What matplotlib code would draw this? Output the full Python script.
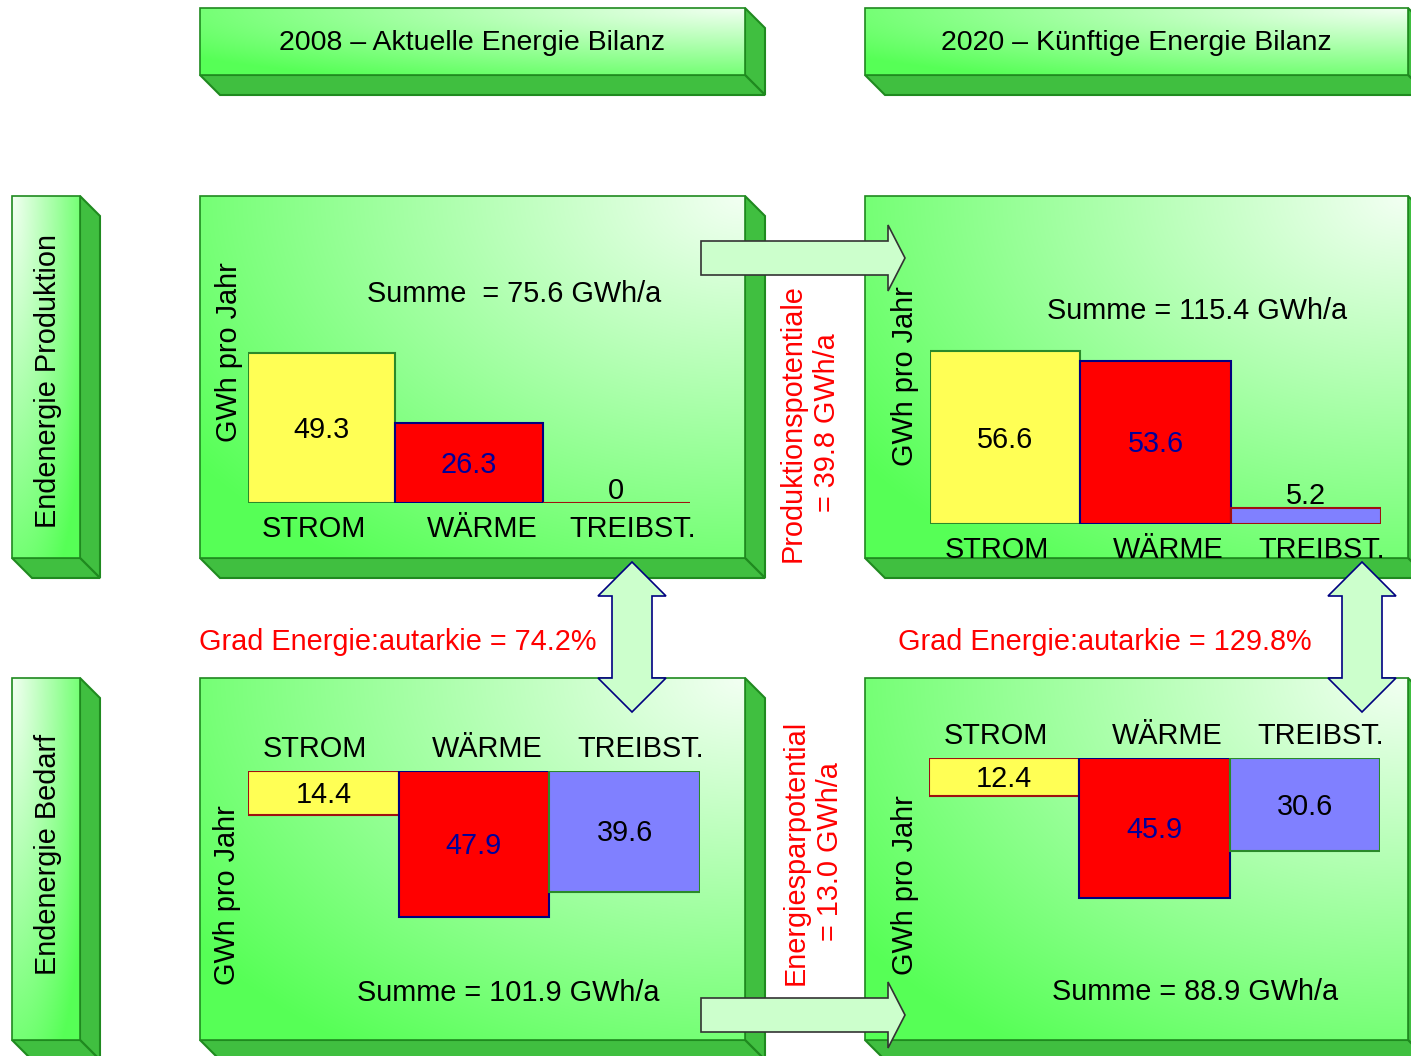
import numpy as np
import matplotlib.pyplot as plt
from matplotlib.patches import Polygon, Rectangle

plt.rcParams['font.family'] = ['Liberation Sans', 'DejaVu Sans']

# data (GWh pro Jahr)
categories = ['STROM', 'WÄRME', 'TREIBST.']
prod_2008 = [49.3, 26.3, 0.0]
prod_2020 = [56.6, 53.6, 5.2]
bedarf_2008 = [14.4, 47.9, 39.6]
bedarf_2020 = [12.4, 45.9, 30.6]

bar_colors = ['#ffff55', '#ff0000', '#8080ff']
edges_prod = ['#2a8a2a', '#000080', '#a01010']
edges_bedarf = ['#a01010', '#000080', '#2a8a2a']
value_colors = ['black', '#000099', 'black']

W, H = 1411, 1056
PX = 3.05  # pixel per GWh
FACE = '#40bf40'
EDGE = '#1f8a1f'
FS = 20.8
DY = 2  # small downward nudge for text

fig = plt.figure(figsize=(W / 100, H / 100), dpi=100)
ax = fig.add_axes([0, 0, 1, 1])
ax.set_xlim(0, W)
ax.set_ylim(H, 0)
ax.axis('off')

green = np.array([0.34, 1.0, 0.34])
white = np.array([0.95, 1.0, 0.95])


def box3d(x0, y0, x1, y1, d=20, corner='tr'):
    # extruded faces
    ax.add_patch(Polygon([(x1, y0), (x1 + d, y0 + d), (x1 + d, y1 + d), (x1, y1)],
                         closed=True, fc=FACE, ec=EDGE, lw=1.5, zorder=1))
    ax.add_patch(Polygon([(x0, y1), (x1, y1), (x1 + d, y1 + d), (x0 + d, y1 + d)],
                         closed=True, fc=FACE, ec=EDGE, lw=1.5, zorder=1))
    # front face with gradient from one corner
    ny, nx = 100, 100
    u = np.linspace(0, 1, nx)[None, :]
    v = np.linspace(0, 1, ny)[:, None]
    if corner == 'tr':
        dx, dy = 1 - u, v
    else:
        dx, dy = u, v
    t = np.clip(np.sqrt(dx ** 2 + dy ** 2) / 1.25, 0, 1)
    img = white[None, None, :] * (1 - t[..., None]) + green[None, None, :] * t[..., None]
    rect = Rectangle((x0, y0), x1 - x0, y1 - y0, fc='none', ec=EDGE, lw=1.2, zorder=3)
    ax.add_patch(rect)
    im = ax.imshow(img, extent=(x0, x1, y1, y0), origin='upper', aspect='auto',
                   zorder=2, interpolation='bilinear')
    im.set_clip_path(rect)


# headers
box3d(200, 8, 745, 75)
box3d(865, 8, 1408, 75)
ax.text(472, 41 + DY, '2008 – Aktuelle Energie Bilanz', fontsize=20.5, ha='center', va='center', zorder=5)
ax.text(1136, 41 + DY, '2020 – Künftige Energie Bilanz', fontsize=20.5, ha='center', va='center', zorder=5)

# row labels
box3d(12, 196, 80, 558, corner='tl')
box3d(12, 678, 80, 1040, corner='tl')
ax.text(48, 381, 'Endenergie Produktion', fontsize=FS, rotation=90, ha='center', va='center', zorder=5)
ax.text(48, 854, 'Endenergie Bedarf', fontsize=FS, rotation=90, ha='center', va='center', zorder=5)

# panels
box3d(200, 196, 745, 558)
box3d(865, 196, 1408, 558)
box3d(200, 678, 745, 1040)
box3d(865, 678, 1408, 1040)

ylab = dict(fontsize=FS, rotation=90, ha='center', va='center', zorder=5)
ax.text(229, 352, 'GWh pro Jahr', **ylab)
ax.text(905, 376, 'GWh pro Jahr', **ylab)
ax.text(227, 895, 'GWh pro Jahr', **ylab)
ax.text(905, 885, 'GWh pro Jahr', **ylab)

sums = [sum(prod_2008), sum(prod_2020), sum(bedarf_2008), sum(bedarf_2020)]
ax.text(514, 292 + DY, 'Summe  = %.1f GWh/a' % sums[0], fontsize=FS, ha='center', va='center', zorder=5)
ax.text(1197, 309 + DY, 'Summe = %.1f GWh/a' % sums[1], fontsize=FS, ha='center', va='center', zorder=5)
ax.text(508, 991 + DY, 'Summe = %.1f GWh/a' % sums[2], fontsize=FS, ha='center', va='center', zorder=5)
ax.text(1195, 990 + DY, 'Summe = %.1f GWh/a' % sums[3], fontsize=FS, ha='center', va='center', zorder=5)

ax.text(398, 640 + DY, 'Grad Energie:autarkie = %.1f%%' % (100 * sums[0] / sums[2]),
        fontsize=FS, color='red', ha='center', va='center', zorder=5)
ax.text(1105, 640 + DY, 'Grad Energie:autarkie = %.1f%%' % (100 * sums[1] / sums[3]),
        fontsize=FS, color='red', ha='center', va='center', zorder=5)
ax.text(810, 423, 'Produktionspotentiale\n= %.1f GWh/a' % (sums[1] - sums[0]), fontsize=FS,
        color='red', rotation=90, ha='center', va='center', multialignment='center',
        linespacing=1.3, zorder=5)
ax.text(813, 852, 'Energiesparpotential\n= %.1f GWh/a' % (sums[2] - sums[3]), fontsize=FS,
        color='red', rotation=90, ha='center', va='center', multialignment='center',
        linespacing=1.3, zorder=5)

# arrows
ARR = '#ccffcc'


def right_arrow(x0, yc):
    pts = [(x0, yc - 17), (x0 + 187, yc - 17), (x0 + 187, yc - 33), (x0 + 204, yc),
           (x0 + 187, yc + 33), (x0 + 187, yc + 17), (x0, yc + 17)]
    ax.add_patch(Polygon(pts, closed=True, fc=ARR, ec='#333333', lw=1.2, zorder=6))


def updown_arrow(xc, ytop, ybot):
    pts = [(xc, ytop), (xc + 34, ytop + 34), (xc + 20, ytop + 34), (xc + 20, ybot - 34),
           (xc + 34, ybot - 34), (xc, ybot), (xc - 34, ybot - 34), (xc - 20, ybot - 34),
           (xc - 20, ytop + 34), (xc - 34, ytop + 34)]
    ax.add_patch(Polygon(pts, closed=True, fc=ARR, ec='#000080', lw=1.2, zorder=6))


right_arrow(701, 258)
right_arrow(701, 1015)
updown_arrow(632, 562, 712)
updown_arrow(1362, 562, 712)

# bar charts
offsets = [-8, 13, 16]


def bars(x0, x1, ybase, vals, edges, down):
    top = 60
    if down:
        pos = [x0 / W, 1 - (ybase + top * PX) / H, (x1 - x0) / W, top * PX / H]
    else:
        pos = [x0 / W, 1 - ybase / H, (x1 - x0) / W, top * PX / H]
    b = fig.add_axes(pos)
    b.set_xlim(0, 3)
    b.set_ylim((top, 0) if down else (0, top))
    b.axis('off')
    b.patch.set_alpha(0)
    xs = np.arange(len(vals))
    b.bar(xs, vals, width=1, align='edge', color=bar_colors, edgecolor=edges, linewidth=1.5,
          zorder=3)
    pxw = (x1 - x0) / 3
    nudge = DY / PX * (1 if down else -1)
    for i, v in enumerate(vals):
        if v < 10:
            b.text(i + 0.5, v + 4.5 + nudge, '%g' % v, fontsize=FS, ha='center', va='center',
                   color=value_colors[i], zorder=5)
        else:
            b.text(i + 0.5, v / 2 + nudge, '%.1f' % v, fontsize=FS, ha='center', va='center',
                   color=value_colors[i], zorder=5)
        b.text(i + 0.5 + offsets[i] / pxw, -8.0 + nudge, categories[i], fontsize=FS,
               ha='center', va='center', clip_on=False, zorder=5)


bars(248, 690, 503, prod_2008, edges_prod, False)
bars(930, 1381, 524, prod_2020, edges_prod, False)
bars(248, 700, 771, bedarf_2008, edges_bedarf, True)
bars(929, 1380, 758, bedarf_2020, edges_bedarf, True)

fig.savefig('out.png', dpi=100)
